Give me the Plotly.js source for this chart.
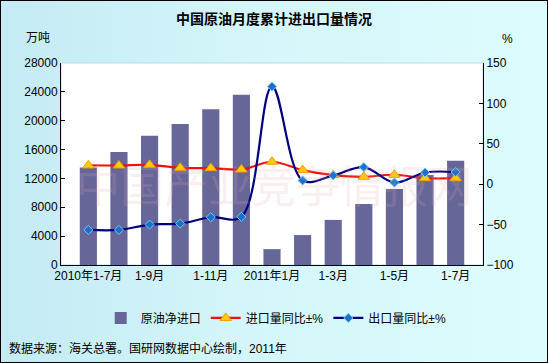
<!DOCTYPE html>
<html>
<head>
<meta charset="utf-8">
<script src="https://cdn.plot.ly/plotly-3.0.1.min.js"></script>
<style>
html,body{margin:0;padding:0;}
#wrap{position:relative;width:548px;height:363px;background:linear-gradient(to right,#c4eaf4 0%,#d4f6fa 45%,#ddfcfd 100%);}
#chart{position:absolute;left:0;top:0;width:548px;height:363px;}
#frame{position:absolute;left:0;top:0;width:546px;height:361px;border:1px solid #000;pointer-events:none;}
</style>
</head>
<body>
<div id="wrap"><div id="chart"></div><div id="frame"></div></div>
<script>
// categories (cumulative months)
const categories = ['2010年1-7月','1-8月','1-9月','1-10月','1-11月','1-12月','2011年1月','1-2月','1-3月','1-4月','1-5月','1-6月','1-7月'];
// 原油净进口 (万吨)
const netImport = [13500, 15650, 17900, 19550, 21600, 23600, 2200, 4150, 6250, 8450, 10530, 12480, 14440];
// 进口量同比±%
const importYoY = [23.2, 23.2, 24.0, 20.3, 19.9, 18.2, 27.8, 17.4, 11.2, 9.2, 11.7, 7.4, 7.4];
// 出口量同比±%
const exportYoY = [-56.6, -56.6, -50.0, -48.8, -40.9, -40.4, 120.8, 4.6, 10.8, 21.1, 2.0, 14.5, 15.1];
// tick labels shown on the category axis
const tickLabels = ['2010年1-7月','1-9月','1-11月','2011年1月','1-3月','1-5月','1-7月'];
const tickCats = categories.filter((c, i) => i % 2 === 0);

const font = 'Liberation Sans, Arial, "Noto Sans CJK SC", sans-serif';

const traces = [
  {type:'bar', name:'原油净进口', x:categories, y:netImport, yaxis:'y',
   marker:{color:'#666699'}},
  {type:'scatter', mode:'lines+markers', name:'进口量同比±%', x:categories, y:importYoY, yaxis:'y2',
   line:{color:'#ee1111', width:2.2, shape:'spline', smoothing:1},
   marker:{symbol:'triangle-up', size:10, color:'#ffcc00', line:{color:'#ff9900', width:1}}},
  {type:'scatter', mode:'lines+markers', name:'出口量同比±%', x:categories, y:exportYoY, yaxis:'y2',
   line:{color:'#000080', width:2.2, shape:'spline', smoothing:1},
   marker:{symbol:'diamond', size:7, color:'#1f6fc8', line:{color:'#66ccff', width:1}}}
];

const layout = {
  width:548, height:363,
  margin:{l:61, r:65, t:63, b:98, pad:0},
  paper_bgcolor:'rgba(0,0,0,0)',
  plot_bgcolor:'#ffffff',
  font:{family:font, size:12, color:'#000'},
  bargap:0.44,
  showlegend:true,
  title:{text:'<b>中国原油月度累计进出口量情况</b>', x:0.5, xanchor:'center', y:0.948, yanchor:'middle',
         font:{family:'"Noto Sans CJK SC", sans-serif', size:14, color:'#000'}},
  xaxis:{type:'category', tickmode:'array', tickvals:tickCats, ticktext:tickLabels,
         showline:true, linecolor:'#000', linewidth:1, ticks:'', showgrid:false, zeroline:false,
         tickangle:0, tickfont:{family:font, size:12, color:'#000'}},
  yaxis:{range:[0,28000], dtick:4000, tickformat:'d', showline:true, linecolor:'#000', linewidth:1,
         ticks:'inside', ticklen:4, tickcolor:'#000', showgrid:false, zeroline:false,
         tickfont:{family:font, size:12, color:'#000'}},
  yaxis2:{range:[-100,150], dtick:50, tickformat:'d', overlaying:'y', side:'right', showline:true, linecolor:'#000', linewidth:1,
          ticks:'inside', ticklen:4, tickcolor:'#000', showgrid:false, zeroline:false,
          tickfont:{family:font, size:12, color:'#000'}},
  legend:{orientation:'h', x:0.51, xanchor:'center', y:-0.262, yanchor:'middle',
          bgcolor:'rgba(0,0,0,0)', font:{family:font, size:12, color:'#000'}, itemwidth:30, tracegroupgap:0},
  shapes:[{type:'rect', xref:'paper', yref:'paper', x0:0, x1:1, y0:0, y1:1, line:{color:'#b8dce8', width:1}, layer:'below'}],
  annotations:[
    {text:'万吨', xref:'paper', yref:'paper', x:-0.0545, y:1.124, xanchor:'center', yanchor:'middle', showarrow:false,
     font:{family:font, size:12, color:'#000'}},
    {text:'%', xref:'paper', yref:'paper', x:1.059, y:1.119, xanchor:'center', yanchor:'middle', showarrow:false,
     font:{family:font, size:12, color:'#000'}},
    {text:'数据来源：海关总署。国研网数据中心绘制，2011年', xref:'paper', yref:'paper', x:-0.128, y:-0.411,
     xanchor:'left', yanchor:'middle', showarrow:false, font:{family:font, size:12, color:'#000'}},
    {text:'中国产业竞争情报网', xref:'paper', yref:'paper', x:0.505, y:0.4, xanchor:'center', yanchor:'middle',
     showarrow:false, font:{family:'"Noto Sans CJK SC", sans-serif', size:44, color:'rgba(225,170,170,0.2)'}}
  ]
};

Plotly.newPlot('chart', traces, layout, {displayModeBar:false, staticPlot:true});
</script>
</body>
</html>
